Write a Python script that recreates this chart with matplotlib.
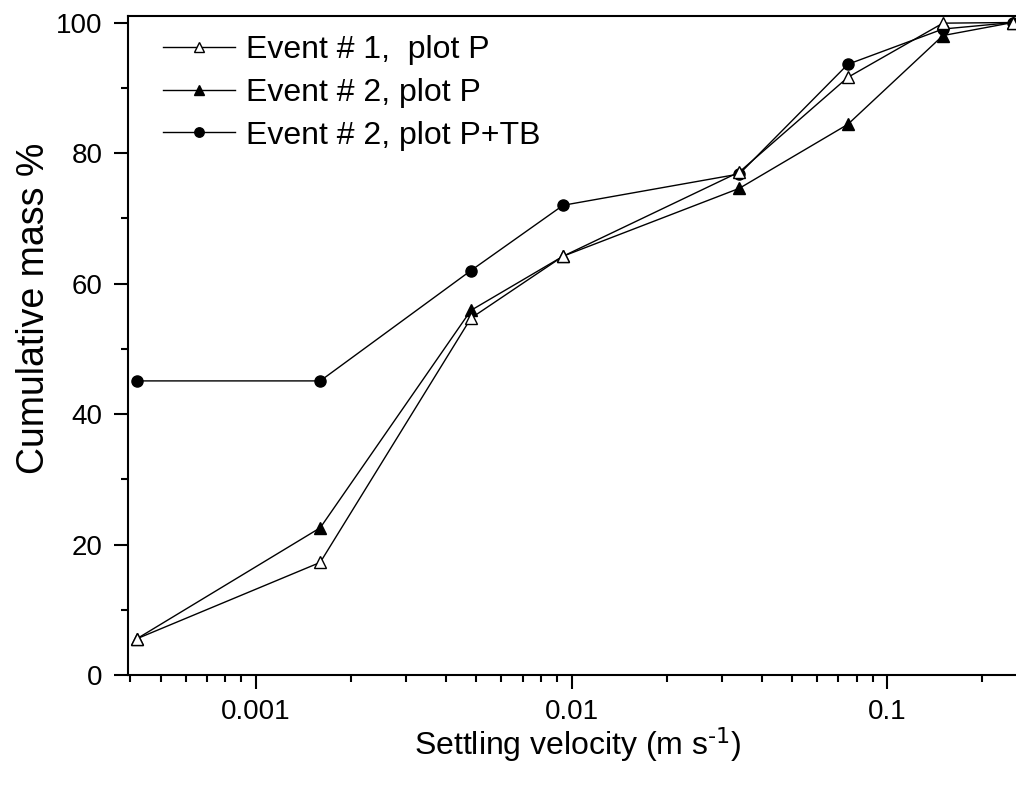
import matplotlib
matplotlib.use('Agg')
import matplotlib.pyplot as plt
from matplotlib.ticker import FixedLocator, LogLocator, FuncFormatter, MultipleLocator

plt.rcParams['font.family'] = ['Liberation Sans', 'DejaVu Sans']
plt.rcParams['mathtext.default'] = 'regular'

velocidad = [0.00042, 0.0016, 0.0048, 0.0094, 0.034, 0.075, 0.15, 0.25]
evento1_p = [5.6, 17.3, 54.7, 64.2, 77.1, 91.6, 99.9, 100]
evento2_p = [5.6, 22.6, 55.9, 64.2, 74.6, 84.4, 98.0, 100]
evento2_ptb = [45.1, 45.1, 62.0, 72.0, 76.8, 93.6, 99.0, 100]

fig = plt.figure(figsize=(10.16, 7.87), dpi=100)
ax = fig.add_axes([0.1257, 0.1419, 0.8766, 0.8378])

l1, = ax.plot(velocidad, evento1_p, '-^', color='black', lw=1, markersize=9,
              markerfacecolor='white', markeredgecolor='black', markeredgewidth=1,
              label='Event # 1,  plot P', zorder=5)
l2, = ax.plot(velocidad, evento2_p, '-^', color='black', lw=1, markersize=9,
              markerfacecolor='black', label='Event # 2, plot P', zorder=4)
l3, = ax.plot(velocidad, evento2_ptb, '-o', color='black', lw=1, markersize=8,
              markerfacecolor='black', label='Event # 2, plot P+TB', zorder=3)

ax.set_xscale('log')
ax.set_xlim(0.000393, 0.26)
ax.set_ylim(0, 101)

ax.xaxis.set_major_locator(FixedLocator([0.001, 0.01, 0.1]))
ax.xaxis.set_major_formatter(FuncFormatter(lambda v, p: '%g' % v))
ax.xaxis.set_minor_locator(LogLocator(base=10, subs=range(2, 10)))
ax.xaxis.set_minor_formatter(FuncFormatter(lambda v, p: ''))
ax.yaxis.set_major_locator(MultipleLocator(20))
ax.yaxis.set_minor_locator(MultipleLocator(10))

for s in ax.spines.values():
    s.set_linewidth(1.5)
ax.tick_params(which='major', direction='out', length=10, width=1.5, labelsize=20)
ax.tick_params(axis='x', which='major', pad=7)
ax.tick_params(axis='y', which='major', pad=8)
ax.tick_params(which='minor', direction='out', length=5, width=1.5)

ax.set_xlabel('Settling velocity (m s$^{\\text{-1}}$)', fontsize=23)
ax.xaxis.set_label_coords(0.505, -0.076)
ax.set_ylabel('Cumulative mass %', fontsize=27)
ax.yaxis.set_label_coords(-0.085, 0.557)

ax.legend(handles=[l1, l2, l3], loc='upper left', frameon=False, fontsize=23,
          handlelength=2.25, handletextpad=0.34, labelspacing=0.4,
          borderaxespad=0, borderpad=0, markerscale=0.85,
          bbox_to_anchor=(0.0396, 0.971))

fig.savefig('out.png', dpi=100)
